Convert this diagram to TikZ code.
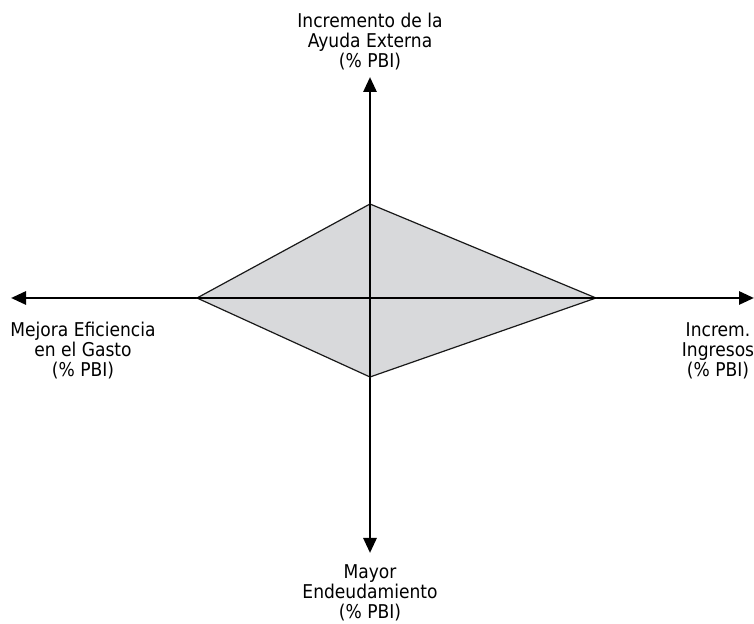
\documentclass[tikz,border=0pt]{standalone}
\usepackage{fontspec}
\setmainfont[FakeStretch=0.9]{DejaVu Sans}
\usetikzlibrary{arrows.meta}
\definecolor{diamondfill}{HTML}{D8D9DB}
\tikzset{
  axisline/.style={line width=2.8pt, -{Triangle[length=15pt,width=13pt]}},
  innerline/.style={line width=1.1pt},
  diamondshape/.style={fill=diamondfill, draw=black!90, line width=1.2pt, line join=miter},
  lbl/.style={align=center, inner sep=0pt, font=\fontsize{19}{20}\selectfont}
}
\begin{document}
\begin{tikzpicture}[x=1pt,y=1pt]
\useasboundingbox (0,0) rectangle (754,623);
\coordinate (O) at (370,325);
\coordinate (N) at (370,546);
\coordinate (S) at (370,70);
\coordinate (W) at (11,325);
\coordinate (E) at (754,325);
\coordinate (L) at (197,325);
\coordinate (T) at (370,419);
\coordinate (R) at (596,325);
\coordinate (B) at (370,246);
\draw[axisline] (O) -- (N);
\draw[axisline] (O) -- (S);
\draw[axisline] (O) -- (W);
\draw[axisline] (O) -- (E);
\draw[diamondshape] (L) -- (T) -- (R) -- (B) -- cycle;
\draw[innerline] (L) -- (R);
\draw[innerline] (T) -- (B);
\node[lbl, anchor=north] (ltop) at (370,610) {Incremento de la\\Ayuda Externa\\(\% PBI)};
\node[lbl, anchor=north] (lleft) at (83,301) {Mejora Eficiencia\\en el Gasto\\(\% PBI)};
\node[lbl, anchor=north] (lright) at (718,301) {Increm.\\Ingresos\\(\% PBI)};
\node[lbl, anchor=north] (lbottom) at (370,59) {Mayor\\Endeudamiento\\(\% PBI)};
\end{tikzpicture}
\end{document}
